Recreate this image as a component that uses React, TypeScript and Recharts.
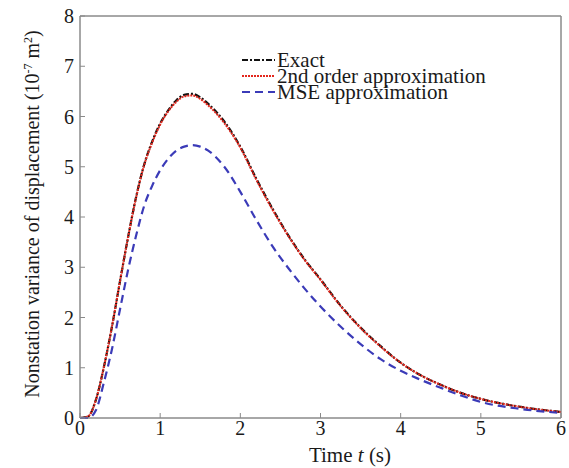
import React from "react"
import { LineChart, Line, XAxis, YAxis, Legend, ReferenceArea, Label } from "recharts"

// time (s)
const times = [0, 0.1, 0.2, 0.3, 0.4, 0.5, 0.6, 0.7, 0.8, 0.9, 1.0, 1.1, 1.2, 1.3, 1.4, 1.5, 1.6, 1.8, 2.0, 2.2, 2.4, 2.6, 2.8, 3.0, 3.25, 3.5, 3.75, 4.0, 4.25, 4.5, 4.75, 5.0, 5.5, 6.0]

// nonstationary variance of displacement (10^-7 m^2)
const exact = [0, 0.03, 0.37, 1.03, 1.83, 2.73, 3.6, 4.4, 5.04, 5.5, 5.86, 6.12, 6.32, 6.43, 6.45, 6.38, 6.25, 5.9, 5.4, 4.76, 4.17, 3.63, 3.16, 2.76, 2.24, 1.8, 1.43, 1.1, 0.85, 0.66, 0.5, 0.38, 0.22, 0.12]
const secondOrder = [0, 0.03, 0.37, 1.03, 1.83, 2.73, 3.6, 4.39, 5.03, 5.48, 5.84, 6.1, 6.29, 6.4, 6.42, 6.35, 6.22, 5.87, 5.38, 4.74, 4.15, 3.62, 3.15, 2.75, 2.23, 1.79, 1.42, 1.1, 0.85, 0.66, 0.5, 0.38, 0.22, 0.12]
const mse = [0, 0.0, 0.16, 0.72, 1.38, 2.17, 2.95, 3.63, 4.22, 4.62, 4.93, 5.16, 5.32, 5.4, 5.43, 5.4, 5.32, 5.0, 4.5, 3.94, 3.42, 2.98, 2.58, 2.22, 1.82, 1.47, 1.17, 0.94, 0.76, 0.6, 0.45, 0.32, 0.18, 0.1]

const xTicks = [0, 1, 2, 3, 4, 5, 6]
const yTicks = [0, 1, 2, 3, 4, 5, 6, 7, 8]

const data = times.map((t, i) => ({ t, exact: exact[i], second: secondOrder[i], mse: mse[i] }))

const font = '"Liberation Serif", "Times New Roman", serif'
const frame = "#8a8a8a"

const legendItems = [
  { name: "Exact", color: "#111111", dash: "6 2 2 2" },
  { name: "2nd order approximation", color: "#e3261c", dash: "2 1" },
  { name: "MSE approximation", color: "#3b3bb8", dash: "8 5" },
]

function LegendBox() {
  return (
    <svg width={300} height={56} style={{ display: "block", overflow: "visible" }}>
      {legendItems.map((it, i) => (
        <g key={it.name}>
          <line x1={0} x2={33} y1={8 + 16 * i} y2={8 + 16 * i} stroke={it.color} strokeWidth={2} strokeDasharray={it.dash} />
          <text x={35} y={14.7 + 16 * i} fontSize={21} fontFamily={font} fill="#1a1a1a">{it.name}</text>
        </g>
      ))}
    </svg>
  )
}

function YLabel() {
  return (
    <text transform="translate(39, 214) rotate(-90)" textAnchor="middle" fontSize={20} fontFamily={font} fill="#1a1a1a">
      Nonstation variance of displacement (10
      <tspan dy={-7} fontSize={12}>-7</tspan>
      <tspan dy={7}> m</tspan>
      <tspan dy={-7} fontSize={12}>2</tspan>
      <tspan dy={7}>)</tspan>
    </text>
  )
}

function XLabel() {
  return (
    <text x={350} y={462} textAnchor="middle" fontSize={21} fontFamily={font} fill="#1a1a1a">
      Time <tspan fontStyle="italic">t</tspan> (s)
    </text>
  )
}

const tickStyle = { fontSize: 20, fontFamily: font, fill: "#1a1a1a" }

export default function App() {
  return (
    <div style={{ position: "absolute", left: 0, top: 0, background: "#fff" }}>
      <LineChart width={569} height={468} data={data} margin={{ top: 15, right: 7, bottom: 0, left: 0 }}>
        <ReferenceArea x1={0} x2={6} y1={0} y2={8} fill="none" stroke={frame} strokeWidth={1} />
        <XAxis dataKey="t" type="number" domain={[0, 6]} ticks={xTicks} height={50}
          stroke={frame} tickSize={-5} tickMargin={8} tick={tickStyle} interval={0}>
          <Label content={XLabel} />
        </XAxis>
        <XAxis xAxisId="top" orientation="top" type="number" domain={[0, 6]} ticks={xTicks} height={1}
          stroke={frame} tickSize={-5} tick={false} />
        <YAxis type="number" domain={[0, 8]} ticks={yTicks} width={80}
          stroke={frame} tickSize={-5} tickMargin={11} tick={tickStyle} interval={0}>
          <Label content={YLabel} />
        </YAxis>
        <YAxis yAxisId="right" orientation="right" type="number" domain={[0, 8]} ticks={yTicks} width={1}
          stroke={frame} tickSize={-5} tick={false} />
        <Legend layout="horizontal" verticalAlign="middle" align="center" content={LegendBox}
          wrapperStyle={{ position: "absolute", left: 242, top: 52, width: 300, height: 56 }} />
        <Line type="monotone" dataKey="exact" name="Exact" stroke="#111111" strokeWidth={2.2}
          strokeDasharray="6 2 2 2" dot={false} isAnimationActive={false} />
        <Line type="monotone" dataKey="second" name="2nd order approximation" stroke="#e3261c" strokeWidth={2}
          strokeDasharray="2 1" dot={false} isAnimationActive={false} />
        <Line type="monotone" dataKey="mse" name="MSE approximation" stroke="#3b3bb8" strokeWidth={2.2}
          strokeDasharray="8 5" dot={false} isAnimationActive={false} />
      </LineChart>
    </div>
  )
}
